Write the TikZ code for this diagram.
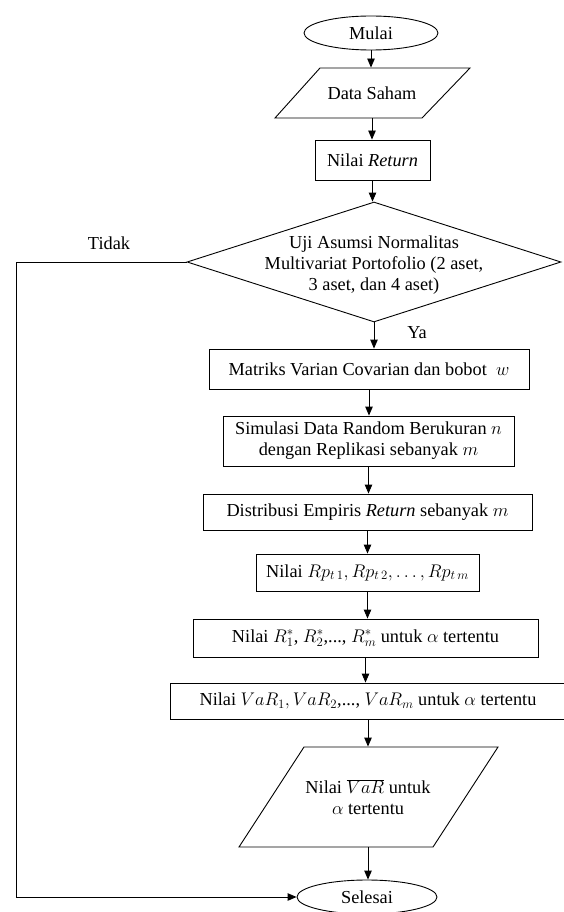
\documentclass[tikz,border=0pt]{standalone}
\usepackage{fix-cm}
\usepackage{fontspec}
\setmainfont{Liberation Serif}
\usetikzlibrary{shapes.geometric,arrows.meta}
\begin{document}
\begin{tikzpicture}[x=1pt,y=-1pt,
  font=\fontsize{18.3}{21}\selectfont,
  line width=0.9pt,
  arr/.style={-{Triangle[length=9pt,width=7.5pt]}},
  boxnode/.style={draw,rectangle,inner sep=0pt,align=center},
  ovalnode/.style={draw,ellipse,inner sep=0pt,minimum width=134pt,minimum height=34pt},
  txtnode/.style={inner sep=0pt,align=center}]
\useasboundingbox (0,0) rectangle (564,912);

% start
\node[ovalnode] (mulai) at (371,33) {Mulai};

% Data Saham (parallelogram)
\draw (275,118) -- (422,118) -- (470,68) -- (320,68) -- cycle;
\node[txtnode,minimum height=50pt,minimum width=100pt] (data) at (372,93) {Data Saham};

% Nilai Return
\node[boxnode,minimum width=115pt,minimum height=40pt] (ret) at (372.5,160) {Nilai \textit{Return}};

% decision
\node[draw,diamond,inner sep=0pt,minimum width=374pt,minimum height=120pt] (dia) at (374,262) {};
\node[txtnode] (diat) at (374,265) {Uji Asumsi Normalitas\\Multivariat Portofolio (2 aset,\\3 aset, dan 4 aset)};

\node[txtnode] (ya) at (417,333) {Ya};
\node[txtnode] (tidak) at (109,243) {Tidak};

% process boxes
\node[boxnode,minimum width=320pt,minimum height=40pt] (mat) at (369,369) {Matriks Varian Covarian dan bobot~ $w$};
\node[boxnode,minimum width=291pt,minimum height=50pt] (sim) at (368.5,441) {Simulasi Data Random Berukuran $n$\\dengan Replikasi sebanyak $m$};
\node[boxnode,minimum width=329pt,minimum height=36pt] (dist) at (367.5,512) {Distribusi Empiris \textit{Return} sebanyak $m$};
\node[boxnode,minimum width=223pt,minimum height=37pt] (rp) at (367.5,572.5) {Nilai $Rp_{t\,1}, Rp_{t\,2}, \dots, Rp_{t\,m}$};
\node[boxnode,minimum width=345pt,minimum height=38pt] (rs) at (365.5,638) {Nilai $R_1^*$, $R_2^*$,..., $R_m^*$ untuk $\alpha$ tertentu};
\node[boxnode,minimum width=396pt,minimum height=36pt] (var) at (368,701) {Nilai $VaR_1, VaR_2$,..., $VaR_m$ untuk $\alpha$ tertentu};

% VaR bar (parallelogram)
\draw (239,847) -- (433,847) -- (498,747) -- (304,747) -- cycle;
\node[txtnode,minimum height=100pt,minimum width=120pt] (vbar) at (368,797) {Nilai $\overline{VaR}$ untuk\\$\alpha$ tertentu};

% end
\node[ovalnode,minimum width=140pt] (sel) at (367,897) {Selesai};

% connectors
\draw[arr] (mulai.south) -- (mulai.south |- data.north);
\draw[arr] (data.south) -- (data.south |- ret.north);
\draw[arr] (ret.south) -- (ret.south |- dia.north);
\draw[arr] (dia.south) -- (dia.south |- mat.north);
\draw[arr] (mat.south) -- (mat.south |- sim.north);
\draw[arr] (sim.south) -- (sim.south |- dist.north);
\draw[arr] (dist.south) -- (dist.south |- rp.north);
\draw[arr] (rp.south) -- (rp.south |- rs.north);
\draw[arr] (rs.south) -- (rs.south |- var.north);
\draw[arr] (var.south) -- (var.south |- vbar.north);
\draw[arr] (vbar.south) -- (vbar.south |- sel.north);

\coordinate (c1) at (16,262);
\coordinate (c2) at (16,897);
\draw[arr] (dia.west) -- (c1) -- (c2) -- (sel.west);
\end{tikzpicture}
\end{document}
